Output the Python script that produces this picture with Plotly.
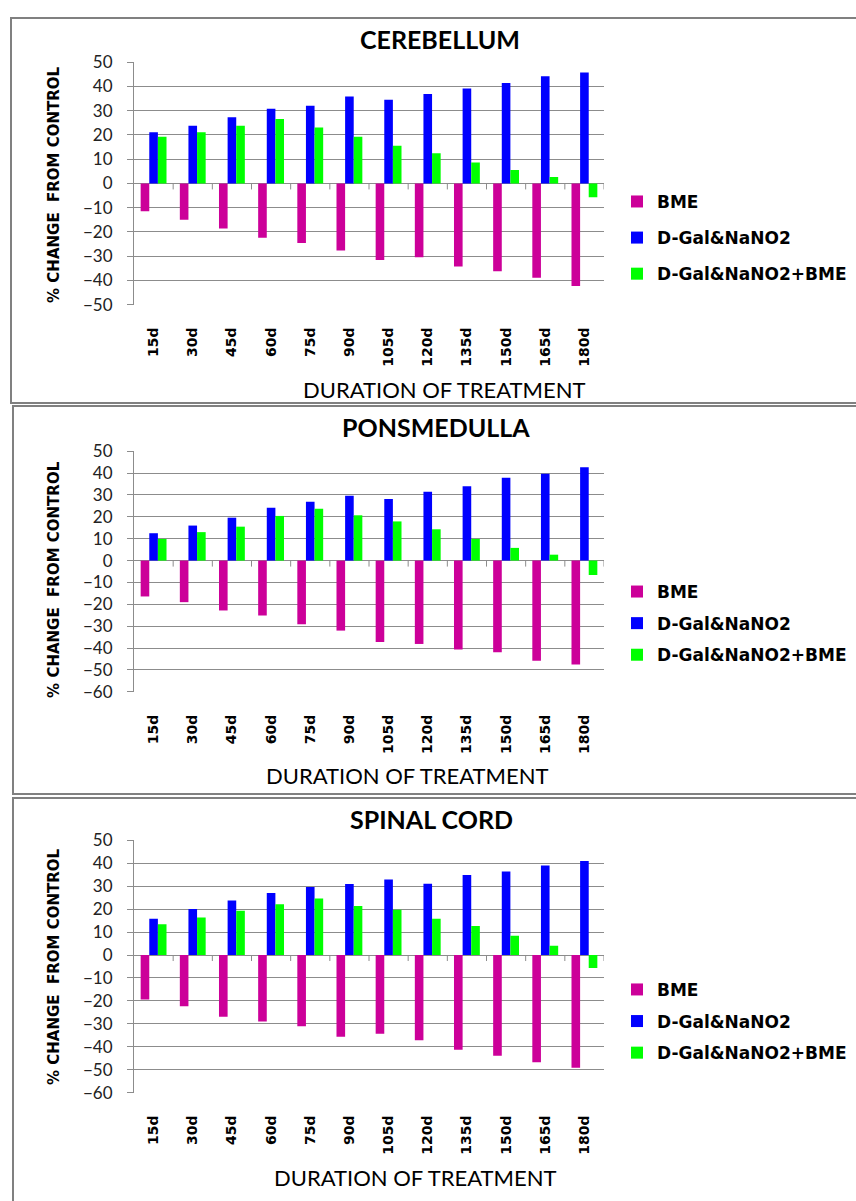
import plotly.graph_objects as go

categories = ["15d", "30d", "45d", "60d", "75d", "90d", "105d", "120d", "135d", "150d", "165d", "180d"]
series_names = ["BME", "D-Gal&NaNO2", "D-Gal&NaNO2+BME"]
series_colors = ["#CC0099", "#0000FF", "#00FF00"]

# CEREBELLUM
cb_bme = [-11.5, -15.0, -18.6, -22.4, -24.5, -27.6, -31.5, -30.4, -34.2, -36.2, -38.9, -42.3]
cb_dgal = [21.1, 23.8, 27.3, 30.8, 32.0, 35.8, 34.5, 36.8, 39.1, 41.4, 44.2, 45.7]
cb_dgal_bme = [19.2, 21.1, 23.8, 26.6, 23.0, 19.2, 15.5, 12.4, 8.6, 5.5, 2.7, -5.7]

# PONSMEDULLA
pm_bme = [-16.4, -19.0, -22.8, -25.1, -29.1, -32.0, -37.2, -38.1, -40.6, -41.9, -45.8, -47.5]
pm_dgal = [12.5, 16.0, 19.6, 24.2, 26.9, 29.6, 28.1, 31.5, 34.0, 37.9, 39.7, 42.7]
pm_dgal_bme = [9.9, 13.0, 15.5, 20.4, 23.7, 20.7, 17.9, 14.3, 9.9, 5.8, 2.7, -6.6]

# SPINAL CORD
sc_bme = [-19.4, -22.3, -26.9, -29.0, -31.0, -35.6, -34.3, -37.1, -41.3, -43.9, -46.7, -49.1]
sc_dgal = [15.8, 20.0, 23.7, 27.0, 29.6, 30.9, 32.9, 31.1, 34.9, 36.4, 39.0, 41.0]
sc_dgal_bme = [13.4, 16.3, 19.3, 22.1, 24.6, 21.3, 19.7, 15.8, 12.6, 8.4, 4.0, -5.7]

panel_titles = ["CEREBELLUM", "PONSMEDULLA", "SPINAL CORD"]
panel_data = [
    [cb_bme, cb_dgal, cb_dgal_bme],
    [pm_bme, pm_dgal, pm_dgal_bme],
    [sc_bme, sc_dgal, sc_dgal_bme],
]
y_ranges = [[-50, 50], [-60, 50], [-60, 50]]

W, H = 856, 1201


def px(v):
    return v / W


def py(v):
    return 1 - v / H


# layout geometry (pixels)
plot_x0, plot_x1 = 134, 604
plot_tops = [52, 448, 844]
plot_bottoms = [299, 693, 1101]
title_y = [28, 423, 822]
title_x = [440, 436, 432]
ytitle_y = [177, 579, 973]
xtitle_y = [385, 778, 1187]
xtitle_x = [444, 407, 415]
legend_top = [176, 573, 978]
legend_gap = [11, 6.5, 6.5]
box = [(11, 7, 399), (13, 402, 797), (13, 801, 1215)]

fig = go.Figure()
grid = "#8C8C8C"
layout = dict(
    width=W, height=H, margin=dict(l=0, r=0, t=0, b=0),
    paper_bgcolor="white", plot_bgcolor="white",
    barmode="group", bargap=0.34, bargroupgap=0.0,
    showlegend=True,
)
annotations = []
shapes = []

for p in range(3):
    sfx = "" if p == 0 else str(p + 1)
    xa, ya = "x" + sfx, "y" + sfx
    leg = "legend" + sfx
    for s in range(3):
        fig.add_trace(go.Bar(
            x=categories, y=panel_data[p][s], name=series_names[s],
            marker=dict(color=series_colors[s], line=dict(width=0)),
            xaxis=xa, yaxis=ya, legend=leg, legendgroup=f"{p}_{s}",
        ))
    layout["xaxis" + sfx] = dict(
        domain=[px(plot_x0), px(plot_x1)], anchor=ya, type="category",
        range=[-0.5, 11.5], showgrid=False, showline=False, ticks="",
        tickangle=-90, ticklabelstandoff=19,
        tickfont=dict(family="DejaVu Sans", size=14, color="black", weight="bold"),
    )
    layout["yaxis" + sfx] = dict(
        domain=[py(plot_bottoms[p]), py(plot_tops[p])], anchor=xa,
        range=y_ranges[p], dtick=10, showgrid=True, gridcolor=grid, gridwidth=1,
        zeroline=True, zerolinecolor=grid, zerolinewidth=1,
        showline=True, linecolor=grid, linewidth=1,
        ticks="outside", ticklen=6, tickcolor=grid, ticklabelstandoff=11,
        tickfont=dict(family="Lato", size=17, color="#222222"),
    )
    layout[leg] = dict(
        x=px(617), y=py(legend_top[p]), xanchor="left", yanchor="top",
        font=dict(family="DejaVu Sans", size=17, color="black", weight="bold"),
        bgcolor="rgba(0,0,0,0)", tracegroupgap=legend_gap[p], itemwidth=30,
    )
    annotations.append(dict(
        text=panel_titles[p], x=px(title_x[p]), y=py(title_y[p]), xref="paper", yref="paper",
        showarrow=False, xanchor="center", yanchor="middle",
        font=dict(family="Lato", size=25, color="black", weight="bold"),
    ))
    annotations.append(dict(
        text="% CHANGE  FROM CONTROL", x=px(54), y=py(ytitle_y[p]), xref="paper", yref="paper",
        showarrow=False, textangle=-90, xanchor="center", yanchor="middle",
        font=dict(family="DejaVu Sans", size=15, color="black", weight="bold"),
    ))
    annotations.append(dict(
        text="DURATION OF TREATMENT", x=px(xtitle_x[p]), y=py(xtitle_y[p]), xref="paper", yref="paper",
        showarrow=False, xanchor="center", yanchor="middle",
        font=dict(family="Lato", size=22, color="black"),
    ))
    for k in range(12):
        shapes.append(dict(
            type="line", xref=xa, yref=ya, ysizemode="pixel", yanchor=0,
            x0=k + 0.5, x1=k + 0.5, y0=0, y1=-6, line=dict(color=grid, width=1),
        ))
    bx, bt, bb = box[p]
    shapes.append(dict(
        type="rect", xref="paper", yref="paper",
        x0=px(bx), x1=1.02, y0=py(bb), y1=py(bt),
        line=dict(color="#808080", width=2), fillcolor="rgba(0,0,0,0)",
    ))

layout["annotations"] = annotations
layout["shapes"] = shapes
fig.update_layout(**layout)
fig.write_html(
    "out.html",
    config={"displayModeBar": False},
    post_script="document.body.style.margin='0';document.body.style.overflow='hidden';",
)
